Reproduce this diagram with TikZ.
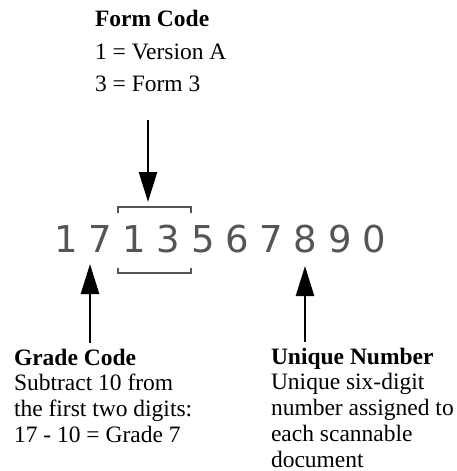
\documentclass[tikz,border=0pt]{standalone}
\usepackage{fontspec}
\setmainfont{Liberation Serif}
\newfontfamily\digitfont[LetterSpace=29]{DejaVu Sans}
\usetikzlibrary{arrows.meta}
\definecolor{digitgray}{HTML}{555555}
\tikzset{
  arr/.style={line width=2.5pt,-{Triangle[length=30pt,width=18pt]}},
  brk/.style={draw=digitgray,line width=1.6pt},
  lbl/.style={inner sep=0pt,outer sep=0pt,align=left,font=\fontsize{23.5}{25.8}\selectfont},
}
\begin{document}
\begin{tikzpicture}[x=1pt,y=-1pt]
\useasboundingbox (0,0) rectangle (456,471);
% number
\node[anchor=base west,inner sep=0pt,text=digitgray,font=\digitfont\fontsize{37}{40}\selectfont] (num) at (54,252) {1713567890};
% brackets
\draw[brk] (118,213) -- (118,207) -- (191,207) -- (191,213);
\draw[brk] (118,268) -- (118,273) -- (191,273) -- (191,268);
% labels
\node[lbl,anchor=base west] (form) at (95,27) {\fontsize{23.5}{32.5}\selectfont\begin{tabular}[t]{@{}l@{}}\textbf{Form Code}\\ 1 = Version A\\ 3 = Form 3\end{tabular}};
\node[lbl,anchor=base west] (grade) at (14,365) {\begin{tabular}[t]{@{}l@{}}\textbf{Grade Code}\\ Subtract 10 from\\ the first two digits:\\ 17 - 10 = Grade 7\end{tabular}};
\node[lbl,anchor=base west] (uniq) at (271,364) {\begin{tabular}[t]{@{}l@{}}\textbf{Unique Number}\\ Unique six-digit\\ number assigned to\\ each scannable\\ document\end{tabular}};
% arrow ends
\coordinate (formStart) at (148,120);
\coordinate (formTip) at (148,202);
\coordinate (gradeStart) at (90,343);
\coordinate (gradeTip) at (90,264);
\coordinate (uniqStart) at (305,342);
\coordinate (uniqTip) at (305,266);
\draw[arr] (formStart) -- (formTip);
\draw[arr] (gradeStart) -- (gradeTip);
\draw[arr] (uniqStart) -- (uniqTip);
\end{tikzpicture}
\end{document}
